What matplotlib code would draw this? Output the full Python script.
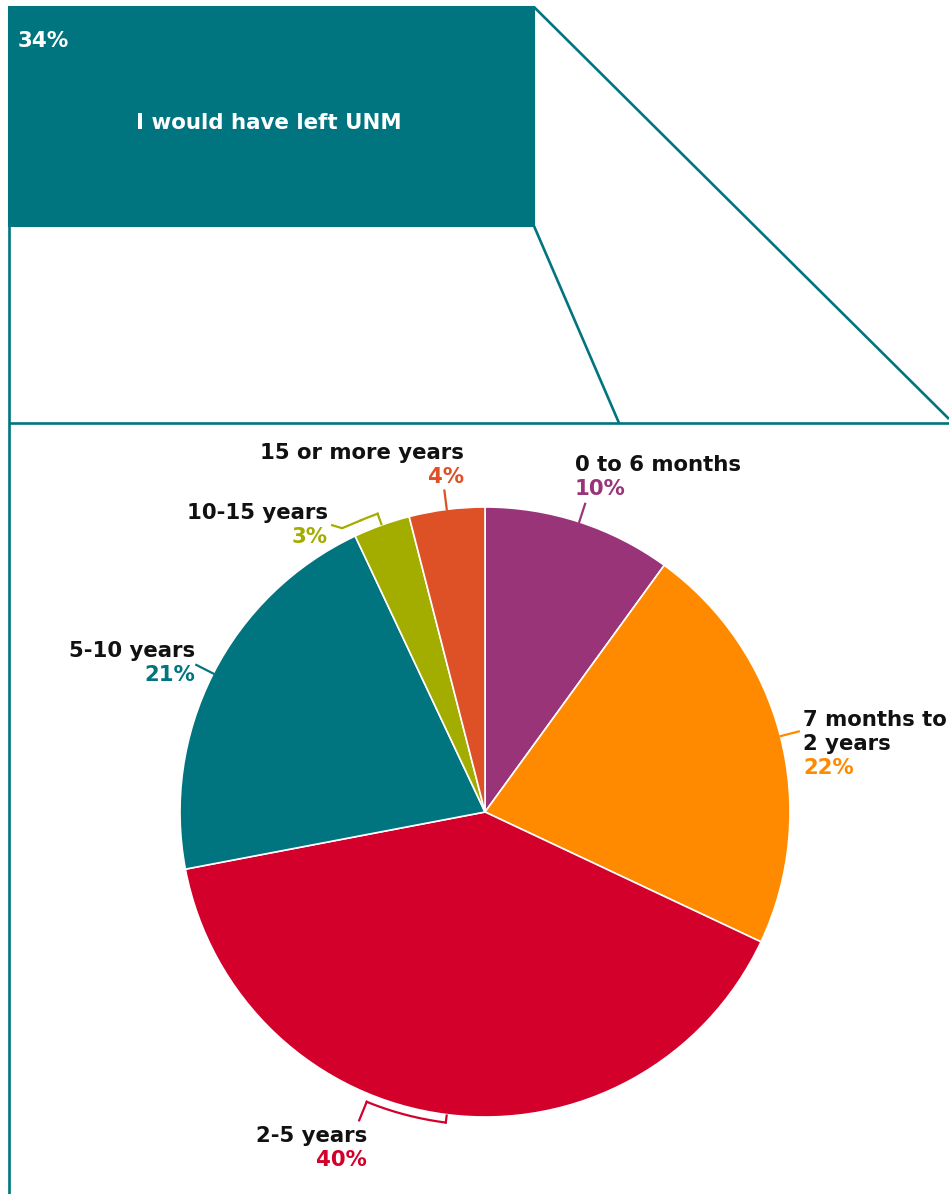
import numpy as np
import matplotlib
matplotlib.use("Agg")
import matplotlib.pyplot as plt

# --- data -------------------------------------------------------------
headline_share = 34
headline_text = "I would have left UNM"

categories = ["0 to 6 months", "7 months to\n2 years", "2-5 years",
              "5-10 years", "10-15 years", "15 or more years"]
shares = [10, 22, 40, 21, 3, 4]
colors = ["#9A3478", "#FF8A00", "#D3002B", "#00757F", "#A3AD00", "#DE5026"]

TEAL = "#00757F"

# --- layout (pixel space, y grows downward) ----------------------------
W, H = 949, 1194
cx, cy, R = 485, 812, 305

# label anchor (x, y of first line), alignment, leader style
label_layout = {
    "0 to 6 months":       dict(x=575, y=465, ha="left",  leader="radial"),
    "7 months to\n2 years": dict(x=803, y=720, ha="left",  leader="radial"),
    "2-5 years":           dict(x=367, y=1136, ha="right", leader="bracket",
                                span=15, rb=R + 8),
    "5-10 years":          dict(x=195, y=651, ha="right", leader="radial"),
    "10-15 years":         dict(x=328, y=513, ha="right", leader="bracket",
                                span=-3.2, rb=R + 12),
    "15 or more years":    dict(x=464, y=453, ha="right", leader="radial"),
}
line_gap = 24

plt.rcParams["font.family"] = ["DejaVu Sans"]
FS = 15.3

fig = plt.figure(figsize=(W / 100, H / 100), dpi=100)
ax = fig.add_axes([0, 0, 1, 1])


def pt(angle_deg, r):
    """Point at clockwise angle from 12 o'clock, radius r (pixel coords)."""
    a = np.deg2rad(angle_deg)
    return cx + r * np.sin(a), cy - r * np.cos(a)


# --- funnel frame ------------------------------------------------------
box_l, box_t, box_r, box_b = 9, 7, 534, 226
split_y = 423
ax.add_patch(plt.Rectangle((box_l, box_t), box_r - box_l, box_b - box_t,
                           facecolor=TEAL, edgecolor=TEAL, lw=1.5, zorder=2))
frame_kw = dict(color=TEAL, lw=1.9, solid_capstyle="butt", zorder=2)
ax.plot([box_l, box_l], [box_b, H + 5], **frame_kw)
ax.plot([box_l, W], [split_y, split_y], **frame_kw)
ax.plot([box_r, W], [box_t, split_y - 4], **frame_kw)
ax.plot([box_r, 619], [box_b, split_y], **frame_kw)

ax.text(18, 41, f"{headline_share}%", color="white", fontsize=15.5,
        fontweight="bold", ha="left", va="center")
ax.text((box_l + box_r) / 2 - 3, 123, headline_text, color="white",
        fontsize=15.4, fontweight="bold", ha="center", va="center")

# --- pie -----------------------------------------------------------------
wedges, _ = ax.pie(shares, colors=colors, startangle=270, counterclock=True,
                   center=(cx, cy), radius=R,
                   wedgeprops=dict(edgecolor="white", linewidth=1.2))

# --- labels and leaders --------------------------------------------------
start = 0.0
for cat, val, col in zip(categories, shares, colors):
    span_deg = 360.0 * val / sum(shares)
    mid = start + span_deg / 2
    start += span_deg
    lay = label_layout[cat]

    if lay["leader"] == "radial":
        (x0, y0), (x1, y1) = pt(mid, R), pt(mid, R + 19)
        ax.plot([x0, x1], [y0, y1], color=col, lw=1.6, zorder=3)
    else:
        rb = lay["rb"]
        far = mid + lay["span"]
        arc = np.linspace(mid, far, 40)
        ax_pts = np.array([pt(a, rb) for a in arc])
        tick = np.array([pt(mid, R + 1), pt(mid, rb)])
        ax.plot(tick[:, 0], tick[:, 1], color=col, lw=1.6, zorder=3)
        ax.plot(ax_pts[:, 0], ax_pts[:, 1], color=col, lw=1.6, zorder=3)
        ex, ey = pt(far, rb)
        if lay["span"] > 0:
            lx, ly = pt(far, rb + 20)
            ax.plot([ex, lx], [ey, ly], color=col, lw=1.6, zorder=3)
        else:
            ax.plot([ex, ex - 19, ex - 29], [ey, ey + 8, ey + 5],
                    color=col, lw=1.6, zorder=3)

    n_lines = cat.count("\n") + 1
    for i, line in enumerate(cat.split("\n")):
        ax.text(lay["x"], lay["y"] + i * line_gap, line, color="#111111",
                fontsize=FS, fontweight="bold", ha=lay["ha"], va="center")
    ax.text(lay["x"], lay["y"] + n_lines * line_gap, f"{val}%", color=col,
            fontsize=FS, fontweight="bold", ha=lay["ha"], va="center")

ax.set_xlim(0, W)
ax.set_ylim(H, 0)
ax.set_aspect("equal")
ax.axis("off")

fig.savefig("out.png", dpi=100, facecolor="white")
